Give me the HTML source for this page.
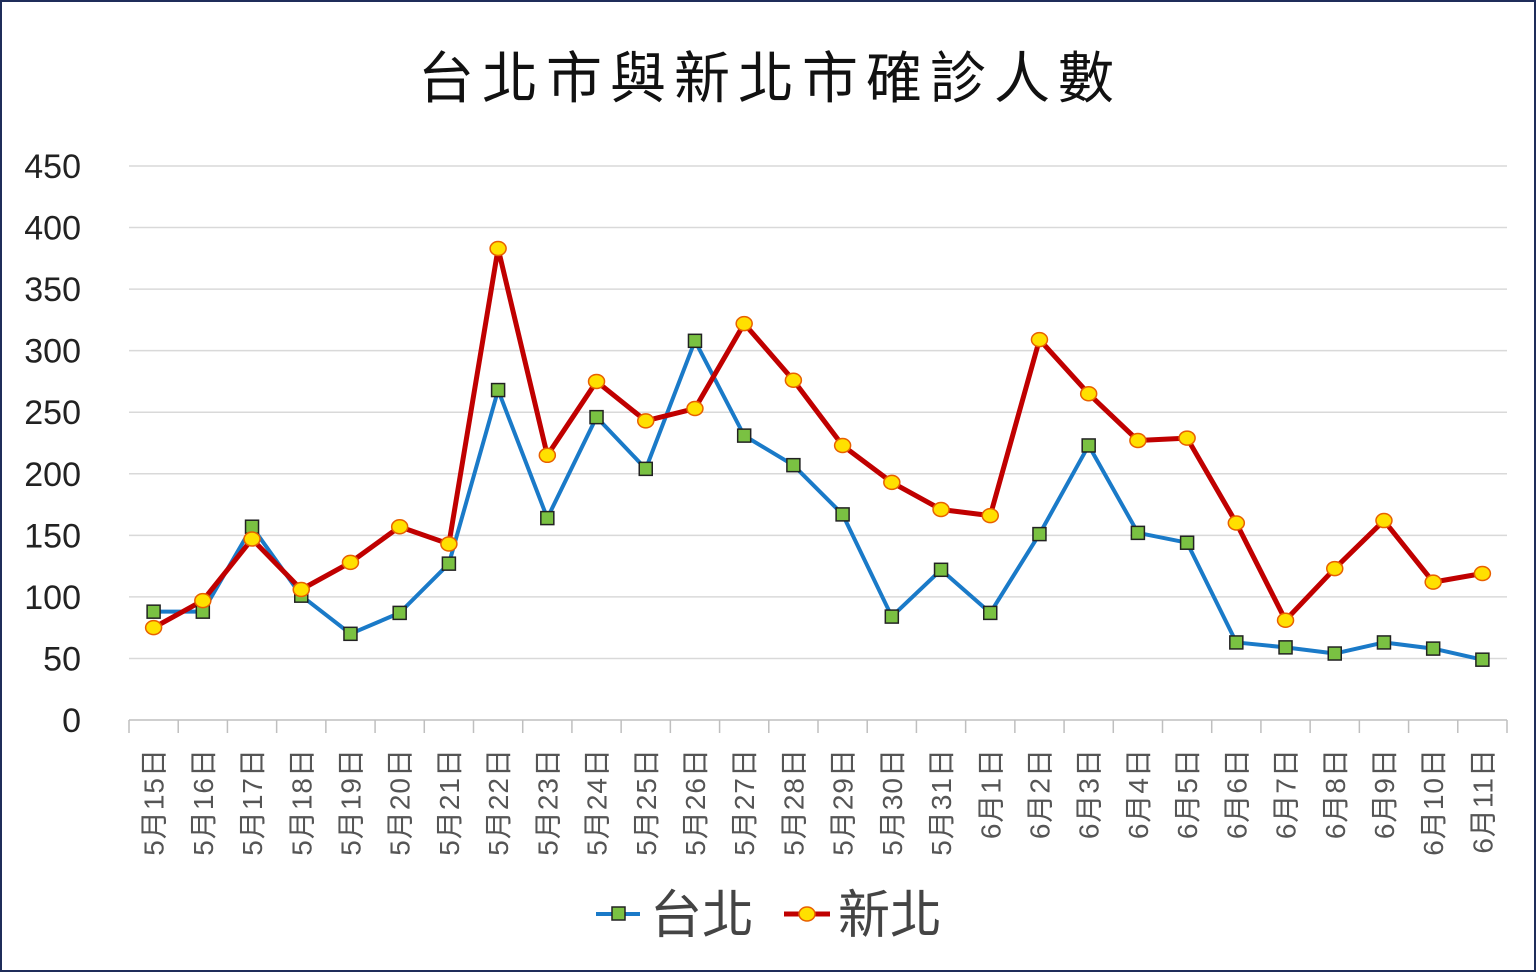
<!DOCTYPE html>
<html><head><meta charset="utf-8"><style>
body{margin:0;background:#fff}
svg text{font-family:"Liberation Sans","Noto Sans CJK TC",sans-serif}
</style></head><body>
<svg id="chart" width="1536" height="972" viewBox="0 0 1536 972" xmlns="http://www.w3.org/2000/svg">
<rect x="1" y="1" width="1534" height="970" fill="#fff" stroke="#1f2d5a" stroke-width="2"/>
<text x="770" y="98" font-size="56" letter-spacing="8" text-anchor="middle" fill="#111">台北市與新北市確診人數</text>
<g id="grid"></g><g id="axes"></g><g id="series"></g>
<g>
<g>
<line x1="596" y1="914" x2="640" y2="914" stroke="#1a7ac8" stroke-width="4"/>
<rect x="612" y="907" width="13" height="13" fill="#7ac142" stroke="#222" stroke-width="1.5"/>
<text x="650" y="933" font-size="52" fill="#444">台北</text></g>
<g>
<line x1="784" y1="914" x2="830" y2="914" stroke="#c00000" stroke-width="5"/>
<ellipse cx="807" cy="914" rx="8" ry="7" fill="#ffe000" stroke="#e86000" stroke-width="1.5"/>
<text x="838" y="933" font-size="52" fill="#444">新北</text></g>
</g>
</svg>
<script>
const categories=["5月15日","5月16日","5月17日","5月18日","5月19日","5月20日","5月21日","5月22日","5月23日","5月24日","5月25日","5月26日","5月27日","5月28日","5月29日","5月30日","5月31日","6月1日","6月2日","6月3日","6月4日","6月5日","6月6日","6月7日","6月8日","6月9日","6月10日","6月11日"];
const taipei=[88,88,157,101,70,87,127,268,164,246,204,308,231,207,167,84,122,87,151,223,152,144,63,59,54,63,58,49];
const newTaipei=[75,97,147,106,128,157,143,383,215,275,243,253,322,276,223,193,171,166,309,265,227,229,160,81,123,162,112,119];
const yTicks=[0,50,100,150,200,250,300,350,400,450];
const NS="http://www.w3.org/2000/svg";
const L=129,R=1507,Y0=720,Y1=166,YMAX=450;
const step=(R-L)/categories.length;
const xs=i=>L+step*(i+0.5);
const ys=v=>Y0-(Y0-Y1)*v/YMAX;
function mk(tag,attrs,parent){const e=document.createElementNS(NS,tag);for(const k in attrs)e.setAttribute(k,attrs[k]);parent.appendChild(e);return e;}
const grid=document.getElementById('grid'),axes=document.getElementById('axes'),series=document.getElementById('series');
yTicks.forEach(t=>{
 if(t>0){const g=mk('line',{x1:L,x2:R,y1:ys(t),y2:ys(t),stroke:'#d9d9d9','stroke-width':1.5},grid);
 
 }
 const tx=mk('text',{x:81,y:ys(t)+12,'font-size':34,'text-anchor':'end',fill:'#222'},axes);tx.textContent=t;
 
 
});
const ax=mk('line',{x1:L,x2:R,y1:Y0,y2:Y0,stroke:'#bfbfbf','stroke-width':1.5},axes);


for(let i=0;i<=categories.length;i++){const tk=mk('line',{x1:L+step*i,x2:L+step*i,y1:Y0,y2:Y0+13,stroke:'#bfbfbf','stroke-width':1.5},axes);
 
 }
categories.forEach((c,i)=>{const x=xs(i)+10;const t=mk('text',{x:0,y:0,'font-size':28,'letter-spacing':1,'text-anchor':'end',fill:'#555',transform:`translate(${x},748) rotate(-90)`},axes);t.textContent=c;
 
 });
function line(data,color,w,name){const p=mk('polyline',{points:data.map((v,i)=>xs(i)+','+ys(v)).join(' '),fill:'none',stroke:color,'stroke-width':w,'stroke-linejoin':'round'},series);
 
 }
line(taipei,'#1a7ac8',4,'taipei-line');
line(newTaipei,'#c00000',5,'newtaipei-line');
taipei.forEach((v,i)=>{const r=mk('rect',{x:xs(i)-6.5,y:ys(v)-6.5,width:13,height:13,fill:'#7ac142',stroke:'#222','stroke-width':1.5},series);
 
 });
newTaipei.forEach((v,i)=>{const e=mk('ellipse',{cx:xs(i),cy:ys(v),rx:8,ry:7,fill:'#ffe000',stroke:'#e86000','stroke-width':1.5},series);
 
 });
</script>
</body></html>
